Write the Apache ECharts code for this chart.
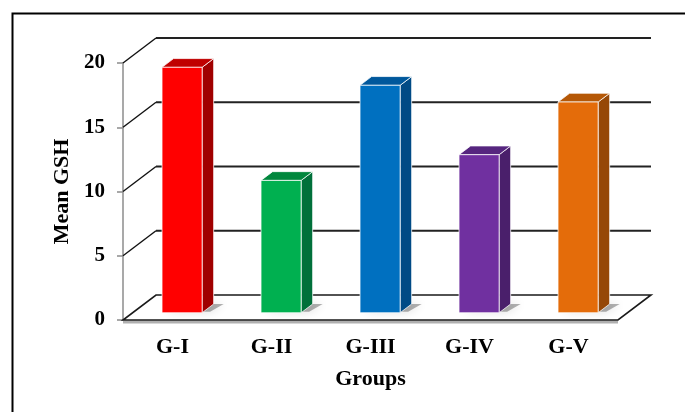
<!DOCTYPE html>
<html>
<head>
<meta charset="utf-8">
<script src="https://cdn.jsdelivr.net/npm/echarts@6/dist/echarts.min.js"></script>
<style>
  html, body { margin: 0; padding: 0; background: #fff; }
  #chart { width: 685px; height: 412px; }
</style>
</head>
<body>
<div id="chart"></div>
<script>
const categories = ['G-I', 'G-II', 'G-III', 'G-IV', 'G-V'];
const meanGSH = [19.1, 10.3, 17.7, 12.3, 16.4];
const yTicks = [0, 5, 10, 15, 20];

// bar palette: front face, top face, side face
const frontColors = ['#ff0000', '#00b050', '#0070c0', '#7030a0', '#e46c0a'];
const topColors = ['#c00000', '#00873d', '#00589c', '#56267f', '#b55807'];
const sideColors = ['#a00000', '#00703a', '#004a85', '#4a1f6b', '#964807'];

// pixel vector from the front plane to the back wall
const DEPTH = [33, -25];
const BAR_FRONT = 0.29;
const BAR_BACK = 0.64;
const FONT = '"Liberation Serif", "Times New Roman", serif';

const chart = echarts.init(document.getElementById('chart'));

function renderWall(params, api) {
  const cs = params.coordSys;
  const v = api.value(1);
  const y = api.coord([0, v])[1];
  const x0 = cs.x;
  const x1 = cs.x + cs.width;
  const [dx, dy] = DEPTH;
  if (v === 0) {
    return {
      type: 'group',
      children: [
        {
          type: 'line',
          shape: { x1: x0, y1: y + 2, x2: x1, y2: y + 2 },
          style: { stroke: '#b0b0b0', lineWidth: 3 }
        },
        {
          type: 'polygon',
          shape: { points: [[x0, y], [x1, y], [x1 + dx, y + dy], [x0 + dx, y + dy]] },
          style: { fill: '#ffffff', stroke: '#1a1a1a', lineWidth: 1.6 }
        }
      ]
    };
  }
  return {
    type: 'group',
    children: [
      {
        type: 'line',
        shape: { x1: x0, y1: y, x2: x0 + dx, y2: y + dy },
        style: { stroke: '#111', lineWidth: 1.4 }
      },
      {
        type: 'line',
        shape: { x1: x0 + dx, y1: y + dy, x2: x1 + dx, y2: y + dy },
        style: { stroke: '#222', lineWidth: 2 }
      }
    ]
  };
}

function renderBar(params, api) {
  const i = api.value(0);
  const v = api.value(1);
  const base = api.coord([i, 0]);
  const top = api.coord([i, v]);
  const band = api.size([1, 0])[0];
  const w = band * 0.405;
  const fx = base[0] + DEPTH[0] * BAR_FRONT - w / 2;
  const fy0 = base[1] + DEPTH[1] * BAR_FRONT;
  const fy1 = top[1] + DEPTH[1] * BAR_FRONT;
  const dx = DEPTH[0] * (BAR_BACK - BAR_FRONT);
  const dy = DEPTH[1] * (BAR_BACK - BAR_FRONT);
  const edge = 'rgba(255,255,255,0.75)';
  return {
    type: 'group',
    children: [
      {
        type: 'polygon',
        shape: { points: [[fx + 4, fy0 - 1], [fx + w + 8, fy0 - 1], [fx + w + dx + 10, fy0 + dy], [fx + dx + 6, fy0 + dy]] },
        style: { fill: 'rgba(0,0,0,0.3)', shadowBlur: 10, shadowColor: 'rgba(0,0,0,0.45)' }
      },
      {
        type: 'polygon',
        shape: { points: [[fx + w, fy1], [fx + w + dx, fy1 + dy], [fx + w + dx, fy0 + dy], [fx + w, fy0]] },
        style: { fill: sideColors[i], stroke: edge, lineWidth: 1 }
      },
      {
        type: 'polygon',
        shape: { points: [[fx, fy1], [fx + dx, fy1 + dy], [fx + w + dx, fy1 + dy], [fx + w, fy1]] },
        style: { fill: topColors[i], stroke: edge, lineWidth: 1 }
      },
      {
        type: 'polygon',
        shape: { points: [[fx, fy1], [fx + w, fy1], [fx + w, fy0], [fx, fy0]] },
        style: { fill: frontColors[i], stroke: edge, lineWidth: 1 }
      }
    ]
  };
}

const option = {
  animation: false,
  backgroundColor: '#ffffff',
  graphic: [
    {
      type: 'rect',
      left: 10,
      top: 11,
      shape: { width: 700, height: 420 },
      style: { fill: 'none', stroke: '#000', lineWidth: 2 }
    }
  ],
  grid: { left: 123, right: 67, top: 63, bottom: 92 },
  xAxis: {
    type: 'category',
    data: categories,
    axisLine: { show: false },
    axisTick: { show: false },
    axisLabel: {
      margin: 16,
      color: '#000',
      fontFamily: FONT,
      fontWeight: 'bold',
      fontSize: 22
    },
    name: 'Groups',
    nameLocation: 'middle',
    nameGap: 48,
    nameTextStyle: { color: '#000', fontFamily: FONT, fontWeight: 'bold', fontSize: 22 }
  },
  yAxis: {
    type: 'value',
    min: 0,
    max: 20,
    interval: 5,
    axisLine: { show: true, lineStyle: { color: '#8c8c8c', width: 1.5 } },
    axisTick: { show: true, length: 6, lineStyle: { color: '#8c8c8c', width: 1.5 } },
    splitLine: { show: false },
    axisLabel: {
      margin: 18,
      color: '#000',
      fontFamily: FONT,
      fontWeight: 'bold',
      fontSize: 21
    },
    name: 'Mean GSH',
    nameLocation: 'middle',
    nameGap: 50,
    nameTextStyle: { color: '#000', fontFamily: FONT, fontWeight: 'bold', fontSize: 22 }
  },
  series: [
    {
      type: 'custom',
      name: 'frame',
      z: 1,
      silent: true,
      renderItem: renderWall,
      encode: { x: 0, y: 1 },
      data: yTicks.map((v) => [0, v])
    },
    {
      type: 'custom',
      name: 'Mean GSH',
      z: 3,
      renderItem: renderBar,
      encode: { x: 0, y: 1 },
      data: meanGSH.map((v, i) => [i, v])
    }
  ]
};

chart.setOption(option);
</script>
</body>
</html>
